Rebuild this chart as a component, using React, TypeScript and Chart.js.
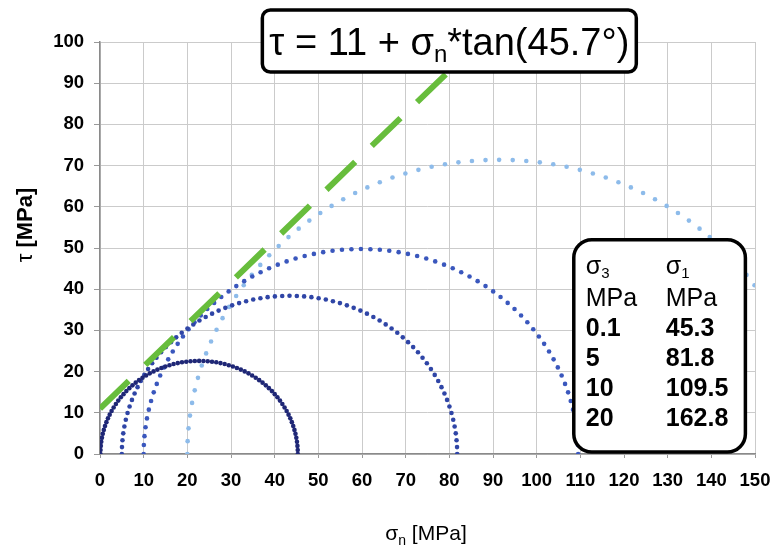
import React, { useEffect, useRef } from "react";
import { Chart, registerables } from "chart.js";

Chart.register(...registerables);

// Triaxial test results: confining stress σ3 and peak axial stress σ1 (MPa)
const sigma3 = [0.1, 5, 10, 20];
const sigma1 = [45.3, 81.8, 109.5, 162.8];
const circleColors = ["#1f2776", "#2f45a6", "#3a57bd", "#8dbbea"];

// Mohr-Coulomb envelope: τ = c + σn·tan(φ)
const cohesion = 11;
const frictionAngleDeg = 45.7;
const envelopeX = [0, 87];

// Axis ranges
const xMin = 0;
const xMax = 150;
const xStep = 10;
const yMin = 0;
const yMax = 100;
const yStep = 10;

// Angular spacing of the plotted stress states on each Mohr circle
const angleStepDeg = 2.5;

const FONT = "'Liberation Sans', Arial, sans-serif";

function mohrCircle(s3: number, s1: number) {
  const c = (s1 + s3) / 2;
  const r = (s1 - s3) / 2;
  const pts: { x: number; y: number }[] = [];
  for (let a = 180; a >= -1e-9; a -= angleStepDeg) {
    const t = (a * Math.PI) / 180;
    pts.push({ x: c + r * Math.cos(t), y: r * Math.sin(t) });
  }
  return pts;
}

function envelope() {
  const k = Math.tan((frictionAngleDeg * Math.PI) / 180);
  return envelopeX.map((x) => ({ x, y: cohesion + k * x }));
}

type Seg = { text: string; font: string; dy?: number };

function segWidth(ctx: CanvasRenderingContext2D, segs: Seg[]) {
  let w = 0;
  for (const s of segs) {
    ctx.font = s.font;
    w += ctx.measureText(s.text).width;
  }
  return w;
}

function drawSegs(ctx: CanvasRenderingContext2D, segs: Seg[], x: number, y: number) {
  let cx = x;
  for (const s of segs) {
    ctx.font = s.font;
    ctx.fillText(s.text, cx, y + (s.dy || 0));
    cx += ctx.measureText(s.text).width;
  }
}

function roundRect(ctx: CanvasRenderingContext2D, x: number, y: number, w: number, h: number, r: number) {
  ctx.beginPath();
  ctx.moveTo(x + r, y);
  ctx.lineTo(x + w - r, y);
  ctx.arcTo(x + w, y, x + w, y + r, r);
  ctx.lineTo(x + w, y + h - r);
  ctx.arcTo(x + w, y + h, x + w - r, y + h, r);
  ctx.lineTo(x + r, y + h);
  ctx.arcTo(x, y + h, x, y + h - r, r);
  ctx.lineTo(x, y + r);
  ctx.arcTo(x, y, x + r, y, r);
  ctx.closePath();
}

const annotations = {
  id: "mohrAnnotations",
  afterDraw(chart: any) {
    const ctx: CanvasRenderingContext2D = chart.ctx;
    const xs = chart.scales.x;
    const ys = chart.scales.y;
    ctx.save();
    ctx.fillStyle = "#000";
    ctx.textBaseline = "alphabetic";
    ctx.textAlign = "left";

    // Axis titles
    const xTitle: Seg[] = [
      { text: "σ", font: `21px ${FONT}` },
      { text: "n", font: `14px ${FONT}`, dy: 5 },
      { text: " [MPa]", font: `21px ${FONT}` },
    ];
    const xtw = segWidth(ctx, xTitle);
    drawSegs(ctx, xTitle, 426 - xtw / 2, 540);

    ctx.save();
    ctx.translate(32, 225);
    ctx.rotate(-Math.PI / 2);
    const yTitle: Seg[] = [
      { text: "τ ", font: `22px ${FONT}` },
      { text: "[MPa]", font: `bold 22px ${FONT}` },
    ];
    const ytw = segWidth(ctx, yTitle);
    drawSegs(ctx, yTitle, -ytw / 2, 0);
    ctx.restore();

    // Envelope equation box
    const eq: Seg[] = [
      { text: "τ = 11 + σ", font: `38px ${FONT}` },
      { text: "n", font: `24px ${FONT}`, dy: 7 },
      { text: `*tan(${frictionAngleDeg}°)`, font: `38px ${FONT}` },
    ];
    const eqW = segWidth(ctx, eq);
    const eqCx = xs.getPixelForValue(80);
    const boxW = eqW + 14;
    roundRect(ctx, eqCx - boxW / 2, 10, boxW, 62, 8);
    ctx.fillStyle = "#fff";
    ctx.fill();
    ctx.lineWidth = 3.5;
    ctx.strokeStyle = "#000";
    ctx.stroke();
    ctx.fillStyle = "#000";
    drawSegs(ctx, eq, eqCx - eqW / 2, 55);

    // Test results table
    const lx = xs.getPixelForValue(108.5);
    const rx = xs.getPixelForValue(147.8);
    const ty = ys.getPixelForValue(52);
    const by = ys.getPixelForValue(0.5);
    roundRect(ctx, lx, ty, rx - lx, by - ty, 18);
    ctx.fillStyle = "#fff";
    ctx.fill();
    ctx.lineWidth = 3.5;
    ctx.strokeStyle = "#000";
    ctx.stroke();
    ctx.fillStyle = "#000";
    const c1 = lx + 12;
    const c2 = lx + 92;
    drawSegs(ctx, [
      { text: "σ", font: `25px ${FONT}` },
      { text: "3", font: `15px ${FONT}`, dy: 4 },
    ], c1, 274);
    drawSegs(ctx, [
      { text: "σ", font: `25px ${FONT}` },
      { text: "1", font: `15px ${FONT}`, dy: 4 },
    ], c2, 274);
    ctx.font = `25px ${FONT}`;
    ctx.fillText("MPa", c1, 306);
    ctx.fillText("MPa", c2, 306);
    ctx.font = `bold 25px ${FONT}`;
    sigma3.forEach((v, i) => {
      const yy = 336 + i * 30;
      ctx.fillText(String(v), c1, yy);
      ctx.fillText(String(sigma1[i]), c2, yy);
    });

    ctx.restore();
  },
};

export default function App() {
  const ref = useRef<HTMLCanvasElement | null>(null);

  useEffect(() => {
    document.body.style.margin = "0";
    const canvas = ref.current;
    if (!canvas) return;

    const datasets: any[] = [
      {
        label: "envelope",
        data: envelope(),
        showLine: true,
        borderColor: "#67bd3c",
        borderWidth: 6,
        borderDash: [40, 23],
        borderCapStyle: "butt",
        pointRadius: 0,
        fill: false,
      },
      ...sigma3.map((s3, i) => ({
        label: `σ3 = ${s3}`,
        data: mohrCircle(s3, sigma1[i]),
        showLine: false,
        pointRadius: 2.3,
        pointBorderWidth: 0,
        pointBackgroundColor: circleColors[i],
        backgroundColor: circleColors[i],
        borderColor: circleColors[i],
      })),
    ];

    const tickFont = { family: FONT, size: 18.5, weight: "bold" as const };

    const chart = new Chart(canvas, {
      type: "scatter",
      data: { datasets },
      options: {
        responsive: false,
        animation: false,
        layout: { padding: { left: 0, top: 42, right: 18, bottom: 0 } },
        plugins: {
          legend: { display: false },
          tooltip: { enabled: false },
        },
        scales: {
          x: {
            type: "linear",
            min: xMin,
            max: xMax,
            ticks: {
              stepSize: xStep,
              font: tickFont,
              color: "#000",
              padding: 12,
              maxRotation: 0,
              autoSkip: false,
            },
            grid: { color: "#cbcbcb", lineWidth: 1, tickLength: 4, tickColor: "#999" },
            border: { color: "#8a8a8a", width: 1.5 },
            afterFit(scale: any) {
              scale.height = 93;
              scale.paddingLeft = 0;
              scale.paddingRight = 0;
            },
          },
          y: {
            type: "linear",
            min: yMin,
            max: yMax,
            ticks: {
              stepSize: yStep,
              font: tickFont,
              color: "#000",
              padding: 10,
            },
            grid: { color: "#cbcbcb", lineWidth: 1, tickLength: 6, tickColor: "#999" },
            border: { color: "#8a8a8a", width: 1.5 },
            afterFit(scale: any) {
              scale.width = 100;
              scale.paddingTop = 0;
              scale.paddingBottom = 0;
            },
          },
        },
      },
      plugins: [annotations],
    });

    return () => chart.destroy();
  }, []);

  return <canvas ref={ref} width={773} height={547} style={{ display: "block" }} />;
}
